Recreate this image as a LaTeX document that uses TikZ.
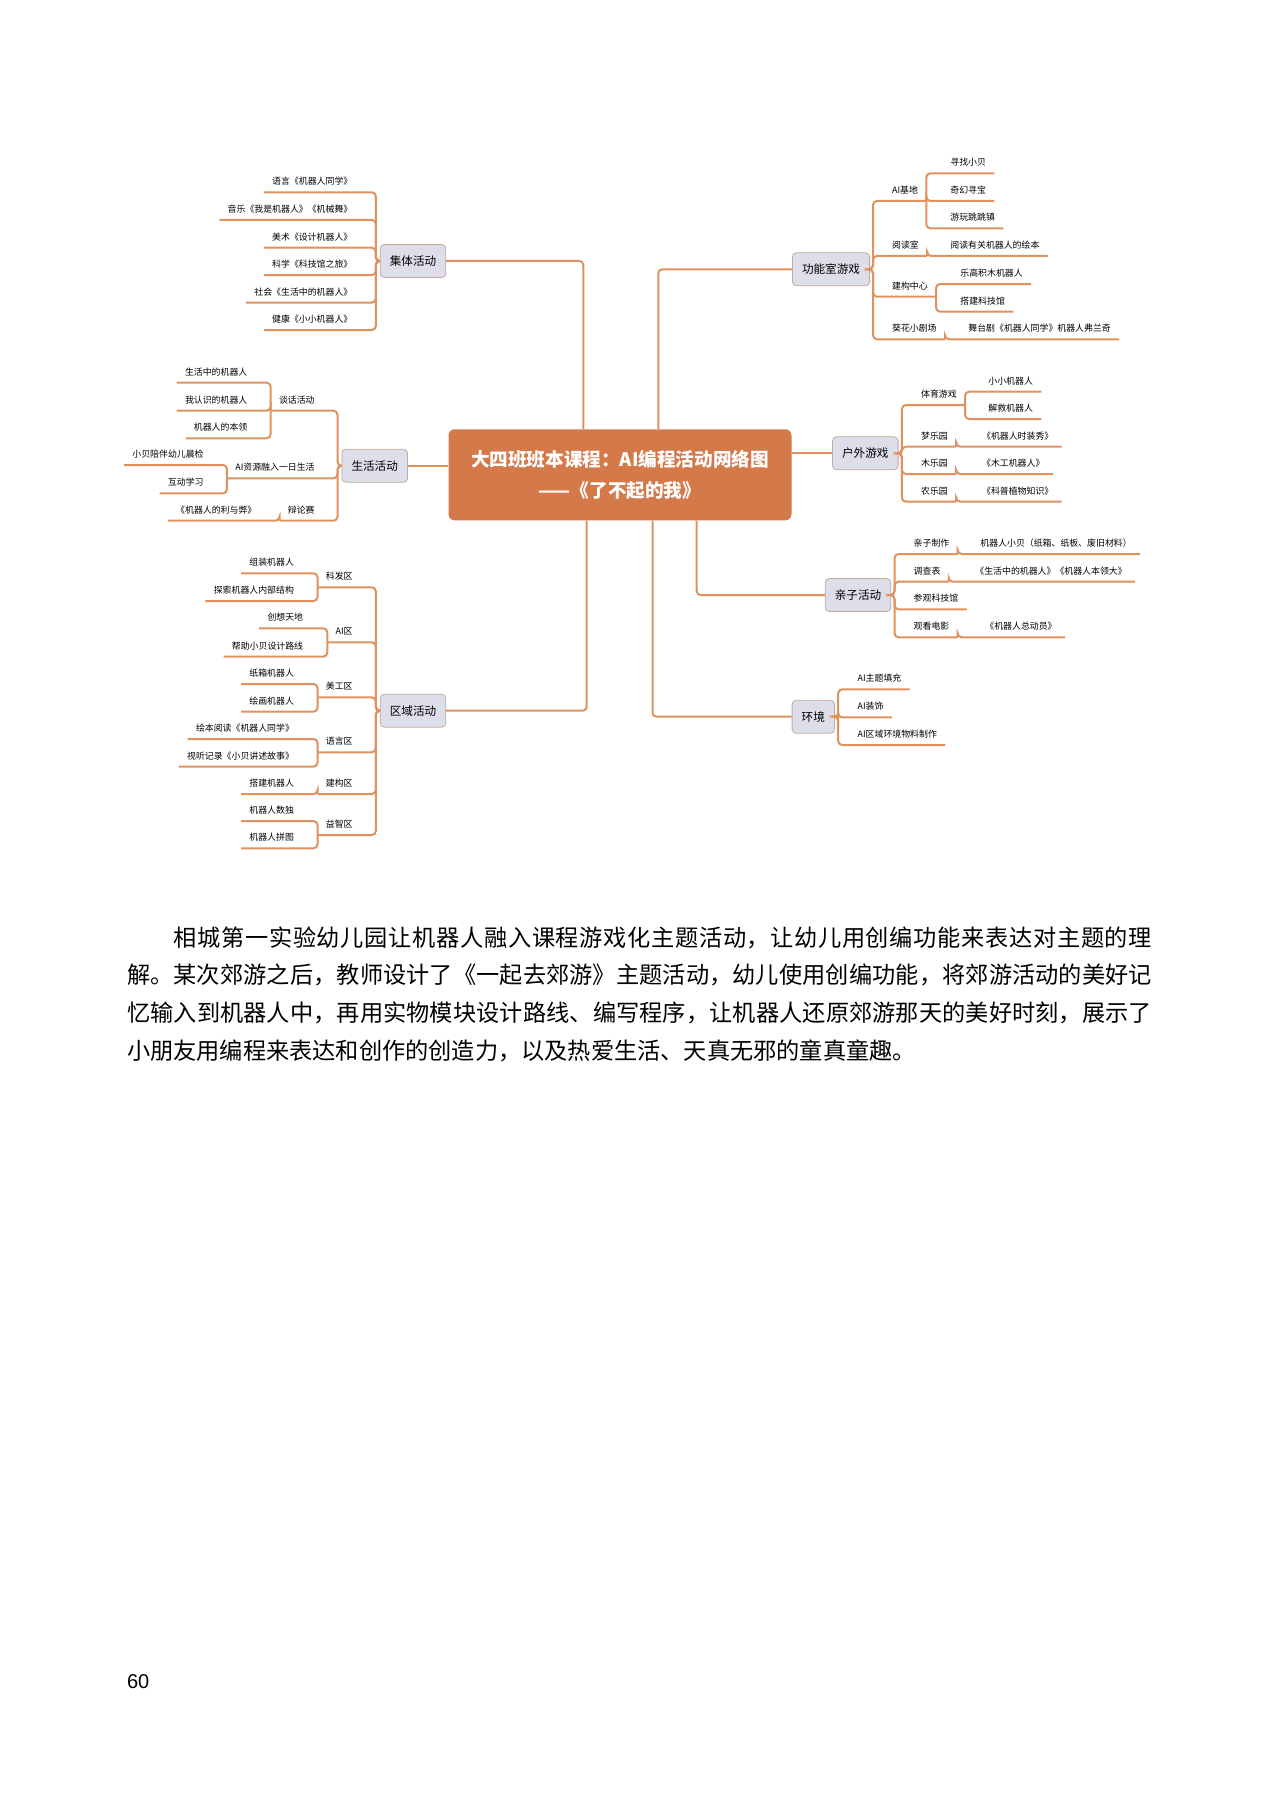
\documentclass[tikz,border=0pt]{standalone}
\usepackage{fontspec}
\setmainfont{Noto Sans CJK SC}
\newfontfamily\numfont{Liberation Sans}
\XeTeXlinebreaklocale "zh"
\XeTeXlinebreakskip=0pt plus 1pt
\definecolor{branchorange}{RGB}{224,146,94}
\definecolor{coreorange}{RGB}{212,121,74}
\definecolor{topicfill}{RGB}{221,222,233}
\definecolor{topicline}{RGB}{196,170,158}

\begin{document}
\begin{tikzpicture}[x=0.5pt, y=-0.5pt, branch/.style={draw=branchorange, line width=1pt, rounded corners=2pt}, core/.style={fill=coreorange, text=white, rounded corners=3pt, minimum width=171.5pt, minimum height=45.5pt, align=center, font=\fontsize{9.3pt}{15.8pt}\selectfont\bfseries}, topic/.style={draw=topicline, fill=topicfill, rounded corners=2pt, font=\fontsize{5.8pt}{7pt}\selectfont, inner xsep=4.8pt, inner ysep=0pt, minimum height=16.5pt}, leaf/.style={font=\fontsize{4.45pt}{5pt}\selectfont, inner xsep=4pt, inner ysep=2.6pt, text height=3.6pt, text depth=0.9pt}, leafL/.style={leaf, anchor=south east}, leafR/.style={leaf, anchor=south west}, para/.style={anchor=west, inner sep=0pt, font=\fontsize{11.6pt}{14pt}\selectfont}, fullline/.style={para, text width=512.5pt, align=justify}]
\useasboundingbox (0,0) rectangle (1280,1803);
\fill[white] (0,0) rectangle (1280,1803);
\node[core] (core) at (620,474.8){大四班班本课程：AI编程活动网络图\\——《了不起的我》};
\node[topic] (jiti) at (413,261){集体活动};
\node[topic] (shenghuo) at (374.7,465.7){生活活动};
\node[topic] (quyu) at (413,710.7){区域活动};
\node[topic] (gongneng) at (831,269.3){功能室游戏};
\node[topic] (huwai) at (865.3,453.3){户外游戏};
\node[topic] (qinzi) at (858,595){亲子活动};
\node[topic] (huanjing) at (813.3,716.7){环境};
\draw[branch] (jiti.east) -| ([xshift=-18.35pt]core.north);
\draw[branch] (gongneng.west) -| ([xshift=19.15pt]core.north);
\draw[branch] (shenghuo.east) -- (shenghuo.east -| core.west);
\draw[branch] (huwai.west) -- (huwai.west -| core.east);
\draw[branch] (quyu.east) -| ([xshift=-16.65pt]core.south);
\draw[branch] (huanjing.west) -| ([xshift=16.25pt]core.south);
\draw[branch] (qinzi.west) -| ([xshift=38.35pt]core.south);
\foreach \y/\txt [count=\i] in {192.3/语言《机器人同学》, 220/音乐《我是机器人》《机械舞》, 247.7/美术《设计机器人》, 275/科学《科技馆之旅》, 302.7/社会《生活中的机器人》, 330/健康《小小机器人》} {\node[leafL] (jt\i) at (360.7,\y){\txt}; \draw[branch] (jiti.west) -- ++(-4,0) |- (jt\i.south east) -- (jt\i.south west);}
\foreach \m/\y/\txt in {tanhua/410.7/谈话活动, rongru/478.3/AI资源融入一日生活, bianlun/520.7/辩论赛} {\node[leafL] (\m) at (323,\y){\txt}; \draw[branch] (shenghuo.west) -- ++(-4,0) |- (\m.south east) -- (\m.south west);}
\foreach \m/\x/\y/\txt [count=\i] in {tanhua/255.7/382.7/生活中的机器人, tanhua/255.7/410.7/我认识的机器人, tanhua/255.7/438.3/机器人的本领, rongru/212/465/小贝陪伴幼儿晨检, rongru/212/493.3/互动学习, bianlun/264.7/520.7/《机器人的利与弊》} {\node[leafL] (sh\i) at (\x,\y){\txt}; \draw[branch] (\m.south west) |- (sh\i.south east) -- (sh\i.south west);}
\foreach \m/\y/\txt in {kefa/587.3/科发区, aiqu/642.3/AI区, meigong/697.3/美工区, yuyan/752.3/语言区, jiangou/794/建构区, yizhi/835/益智区} {\node[leafL] (\m) at (361,\y){\txt}; \draw[branch] (quyu.west) -- ++(-4,0) |- (\m.south east) -- (\m.south west);}
\foreach \m/\x/\y/\txt [count=\i] in {kefa/302.3/573.3/组装机器人, kefa/302.3/601/探索机器人内部结构, aiqu/311.5/628.3/创想天地, aiqu/311.5/656.7/帮助小贝设计路线, meigong/302.3/684/纸箱机器人, meigong/302.3/711.7/绘画机器人, yuyan/302.3/739/绘本阅读《机器人同学》, yuyan/302.3/766.7/视听记录《小贝讲述故事》, jiangou/302.3/794/搭建机器人, yizhi/302.3/821/机器人数独, yizhi/302.3/848.3/机器人拼图} {\node[leafL] (qy\i) at (\x,\y){\txt}; \draw[branch] (\m.south west) |- (qy\i.south east) -- (qy\i.south west);}
\foreach \m/\y/\txt in {aijidi/201/AI基地, yuedu/256/阅读室, jiangouzx/296.7/建构中心, kuihua/339.3/葵花小剧场} {\node[leafR] (\m) at (883.7,\y){\txt}; \draw[branch] (gongneng.east) -- ++(3,0) |- (\m.south west) -- (\m.south east);}
\foreach \m/\x/\y/\txt [count=\i] in {aijidi/942/173.3/寻找小贝, aijidi/942/201/奇幻寻宝, aijidi/942/228.3/游玩跳跳镇, yuedu/942/256/阅读有关机器人的绘本, jiangouzx/952/284/乐高积木机器人, jiangouzx/952/311.7/搭建科技馆, kuihua/960/339.3/舞台剧《机器人同学》机器人弗兰奇} {\node[leafR] (gn\i) at (\x,\y){\txt}; \draw[branch] (\m.south east) |- (gn\i.south west) -- (gn\i.south east);}
\foreach \m/\y/\txt in {tiyu/405/体育游戏, mengle/446.7/梦乐园, mule/474/木乐园, nongle/501.7/农乐园} {\node[leafR] (\m) at (912.7,\y){\txt}; \draw[branch] (huwai.east) -- ++(3.4,0) |- (\m.south west) -- (\m.south east);}
\foreach \m/\x/\y/\txt [count=\i] in {tiyu/980/391.7/小小机器人, tiyu/980/419/解救机器人, mengle/973.7/446.7/《机器人时装秀》, mule/973.7/474/《木工机器人》, nongle/973.7/501.7/《科普植物知识》} {\node[leafR] (hw\i) at (\x,\y){\txt}; \draw[branch] (\m.south east) |- (hw\i.south west) -- (hw\i.south east);}
\foreach \m/\y/\txt in {zhizuo/554/亲子制作, diaocha/581.7/调查表, canguan/609.3/参观科技馆, dianying/637.3/观看电影} {\node[leafR] (\m) at (905.3,\y){\txt}; \draw[branch] (qinzi.east) -- ++(3.3,0) |- (\m.south west) -- (\m.south east);}
\foreach \m/\x/\y/\txt [count=\i] in {zhizuo/972/554/机器人小贝（纸箱、纸板、废旧材料）, diaocha/967/581.7/《生活中的机器人》《机器人本领大》, dianying/977/637.3/《机器人总动员》} {\node[leafR] (qz\i) at (\x,\y){\txt}; \draw[branch] (\m.south east) |- (qz\i.south west) -- (qz\i.south east);}
\foreach \y/\txt [count=\i] in {689.3/AI主题填充, 717.3/AI装饰, 745/AI区域环境物料制作} {\node[leafR] (hj\i) at (849.3,\y){\txt}; \draw[branch] (huanjing.east) -- ++(3.3,0) |- (hj\i.south west) -- (hj\i.south east);}
\node[fullline] (p1) at (126.7,938.3){\parfillskip=0pt\hspace*{2em}相城第一实验幼儿园让机器人融入课程游戏化主题活动，让幼儿用创编功能来表达对主题的理\par};
\node[fullline] (p2) at (126.7,975){\parfillskip=0pt 解。某次郊游之后，教师设计了《一起去郊游》主题活动，幼儿使用创编功能，将郊游活动的美好记\par};
\node[fullline] (p3) at (126.7,1013.3){\parfillskip=0pt 忆输入到机器人中，再用实物模块设计路线、编写程序，让机器人还原郊游那天的美好时刻，展示了\par};
\node[para] (p4) at (126.7,1051){小朋友用编程来表达和创作的创造力，以及热爱生活、天真无邪的童真童趣。};
\node[anchor=west, inner sep=0pt, font=\numfont\fontsize{10pt}{12pt}\selectfont] (pagenum) at (126.7,1681.7){60};
\end{tikzpicture}
\end{document}
